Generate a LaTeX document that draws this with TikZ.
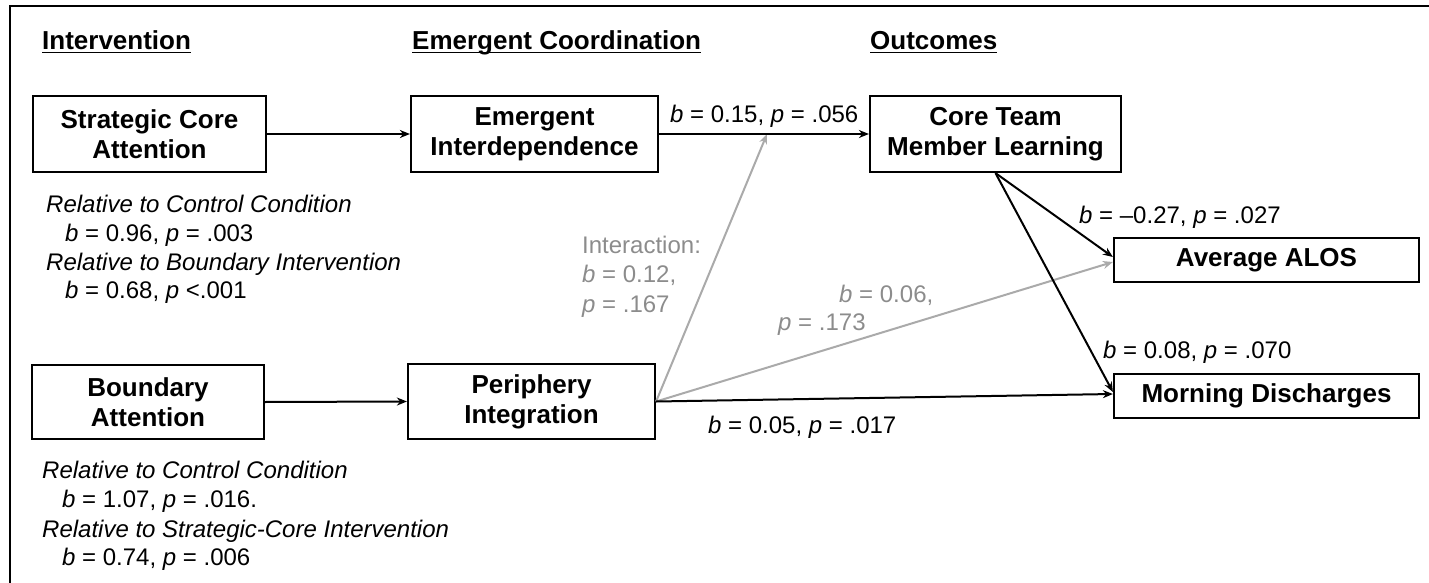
\documentclass[tikz,border=0pt]{standalone}
\usepackage{fontspec}
\setmainfont{Liberation Sans}
\usetikzlibrary{arrows.meta,calc}
\definecolor{lgrey}{RGB}{170,170,170}
\definecolor{tgrey}{RGB}{140,140,140}
\newcommand{\myul}[1]{\setbox0\hbox{#1}\rlap{\rule[-3.5pt]{\wd0}{1.8pt}}\box0}
\begin{document}
\begin{tikzpicture}[x=1pt,y=-1pt,
 box/.style={draw, line width=2.2pt, align=center, inner sep=0pt, font=\fontsize{26}{30}\selectfont\bfseries},
 hdr/.style={anchor=base west, inner sep=0pt, font=\fontsize{26}{30}\selectfont\bfseries},
 lbl/.style={anchor=base west, inner sep=0pt, font=\fontsize{24}{29}\selectfont},
 ilbl/.style={lbl, font=\fontsize{24}{29}\selectfont\itshape},
 glbl/.style={lbl, text=tgrey},
 arr/.style={line width=2pt, -{Stealth[length=10pt,width=8pt]}},
 garr/.style={arr, draw=lgrey, fill=lgrey},
]
\useasboundingbox (0,0) rectangle (1429,583);
\clip (0,0) rectangle (1429,583);
\draw[line width=2pt] (10,6) rectangle (1440,600);

% headers
\node[hdr] (h1) at (42,50) {\myul{Intervention}};
\node[hdr] (h2) at (412,50) {\myul{Emergent Coordination}};
\node[hdr] (h3) at (870,50) {\myul{Outcomes}};

% boxes
\node[box, minimum width=233pt, minimum height=76pt] (sca) at (149.5,134) {Strategic Core\\Attention};
\node[box, minimum width=247pt, minimum height=76pt] (ei) at (534.5,134) {Emergent\\Interdependence};
\node[box, minimum width=251pt, minimum height=76pt] (ctml) at (995.5,134) {Core Team\\Member Learning};
\node[box, minimum width=305pt, minimum height=44pt] (alos) at (1266.5,260) {Average ALOS};
\node[box, minimum width=305pt, minimum height=44pt] (md) at (1266.5,396) {Morning Discharges};
\node[box, minimum width=232pt, minimum height=74pt] (ba) at (148,402) {Boundary\\Attention};
\node[box, minimum width=247pt, minimum height=75pt] (pi) at (531.5,401.5) {Periphery\\Integration};

\coordinate (imid) at (767,134);

% connectors
\draw[garr] (pi.east) -- (imid);
\draw[garr] (pi.east) -- ([yshift=-2pt]alos.west);
\draw[arr] (sca.east) -- (ei.west);
\draw[arr] (ba.east) -- (pi.west);
\draw[arr] (ei.east) -- (ctml.west);
\draw[arr] (pi.east) -- ([yshift=2pt]md.west);
\draw[arr] (ctml.south) -- ([yshift=3pt]alos.west);
\draw[arr] (ctml.south) -- ([yshift=4pt]md.west);

% intervention notes
\node[ilbl] (t1) at (46,212) {Relative to Control Condition};
\node[lbl] (t2) at (65,241) {\textit{b} = 0.96, \textit{p} = .003};
\node[ilbl] (t3) at (46,270) {Relative to Boundary Intervention};
\node[lbl] (t4) at (65,298) {\textit{b} = 0.68, \textit{p} <.001};
\node[ilbl] (t5) at (42,478) {Relative to Control Condition};
\node[lbl] (t6) at (62,507) {\textit{b} = 1.07, \textit{p} = .016.};
\node[ilbl] (t7) at (42,537) {Relative to Strategic-Core Intervention};
\node[lbl] (t8) at (62,565) {\textit{b} = 0.74, \textit{p} = .006};

% path labels
\node[lbl] (l1) at (670,123) {\textit{b} = 0.15, \textit{p} = .056};
\node[glbl] (g1) at (582,253) {Interaction:};
\node[glbl] (g2) at (582,282) {\textit{b} = 0.12,};
\node[glbl] (g3) at (582,312) {\textit{p} = .167};
\node[glbl] (g4) at (839,302) {\textit{b} = 0.06,};
\node[glbl] (g5) at (778,330) {\textit{p} = .173};
\node[lbl] (l2) at (1079,223) {\textit{b} = –0.27, \textit{p} = .027};
\node[lbl] (l3) at (1103,358) {\textit{b} = 0.08, \textit{p} = .070};
\node[lbl] (l4) at (708,433) {\textit{b} = 0.05, \textit{p} = .017};
\end{tikzpicture}
\end{document}
